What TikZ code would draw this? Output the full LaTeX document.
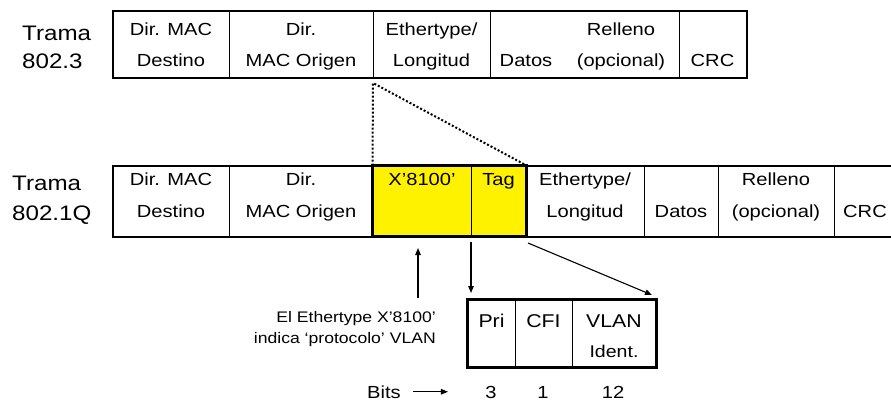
\documentclass[tikz,border=0pt]{standalone}
\usepackage{fontspec}
\setmainfont{Liberation Sans}[FakeStretch=1.15]
\usetikzlibrary{arrows.meta}

\begin{document}
\begin{tikzpicture}[x=1pt, y=-1pt,
  cell/.style={draw, line width=1pt, inner sep=0pt, minimum height=#1},
  frameline/.style={draw, line width=2pt},
  hilite/.style={fill=yellow},
  lbl/.style={inner sep=0pt, anchor=base, font=\fontsize{17.5}{20}\selectfont},
  tramalbl/.style={inner sep=0pt, anchor=base west, font=\fontsize{21}{24}\selectfont},
  taglbl/.style={inner sep=0pt, anchor=base, font=\fontsize{18.5}{22}\selectfont},
  note/.style={inner sep=0pt, anchor=base east, font=\fontsize{15.3}{18}\selectfont},
  arr/.style={line width=1.1pt, -{Triangle[length=7pt,width=5.5pt]}},
  dots/.style={line width=2pt, dotted}
]
\useasboundingbox (0,0) rectangle (891,400);
\clip (0,0) rectangle (891,400);

% ---------- 802.3 frame ----------
\node[tramalbl] (t1a) at (22,40) {Trama};
\node[tramalbl] (t1b) at (22,68) {802.3};

\node[cell=66pt, minimum width=116pt] (d1)   at (171,44)   {};
\node[cell=66pt, minimum width=144pt] (o1)   at (301,44)   {};
\node[cell=66pt, minimum width=117pt] (e1)   at (431.5,44) {};
\node[cell=66pt, minimum width=189pt] (p1)   at (584.5,44) {};
\node[cell=66pt, minimum width=67pt]  (crc1) at (712.5,44) {};
\draw[frameline] (d1.north west) rectangle (crc1.south east);

\node[lbl] at (171,35)   {Dir. MAC};
\node[lbl] at (171,66)   {Destino};
\node[lbl] at (301,35)   {Dir.};
\node[lbl] at (301,66)   {MAC Origen};
\node[lbl] at (431.5,35) {Ethertype/};
\node[lbl] at (431.5,66) {Longitud};
\node[lbl] at (526,66)   {Datos};
\node[lbl] at (621,35)   {Relleno};
\node[lbl] at (621,66)   {(opcional)};
\node[lbl] at (712.5,66) {CRC};

% ---------- 802.1Q frame ----------
\node[tramalbl] (t2a) at (12,190) {Trama};
\node[tramalbl] (t2b) at (12,220) {802.1Q};

\node[cell=70pt, minimum width=116pt] (d2)   at (171,201)   {};
\node[cell=70pt, minimum width=144pt] (o2)   at (301,201)   {};
\node[cell=70pt, minimum width=98pt, hilite] (x2) at (422,201) {};
\node[cell=70pt, minimum width=55pt, hilite] (g2) at (498.5,201) {};
\node[cell=70pt, minimum width=118pt] (e2)   at (585,201)   {};
\node[cell=70pt, minimum width=74pt]  (da2)  at (681,201)   {};
\node[cell=70pt, minimum width=116pt] (r2)   at (776,201)   {};
\node[cell=70pt, minimum width=62pt]  (crc2) at (865,201)   {};
\draw[frameline] (d2.north west) rectangle (crc2.south east);
\draw[line width=2.5pt] (x2.north west) rectangle (g2.south east);

\node[lbl] at (171,185)   {Dir. MAC};
\node[lbl] at (171,217)   {Destino};
\node[lbl] at (301,185)   {Dir.};
\node[lbl] at (301,217)   {MAC Origen};
\node[lbl] at (422,185)   {X'8100'};
\node[lbl] at (498.5,185) {Tag};
\node[lbl] at (585,185)   {Ethertype/};
\node[lbl] at (585,217)   {Longitud};
\node[lbl] at (681,217)   {Datos};
\node[lbl] at (776,185)   {Relleno};
\node[lbl] at (776,217)   {(opcional)};
\node[lbl] at (865,217)   {CRC};

% ---------- zoom lines from the 802.3 Ethertype field ----------
\coordinate (apex) at (373,83);
\draw[dots] (x2.north west) -- (apex) -- (g2.north east);

% ---------- tag detail ----------
\node[cell=67pt, minimum width=47pt] (pri)  at (491.5,333.5) {};
\node[cell=67pt, minimum width=57pt] (cfi)  at (543.5,333.5) {};
\node[cell=67pt, minimum width=84pt] (vid)  at (614,333.5)   {};
\draw[line width=2.5pt] (pri.north west) rectangle (vid.south east);

\node[taglbl] at (491.5,327) {Pri};
\node[taglbl] at (543.5,327) {CFI};
\node[taglbl] at (614,327)   {VLAN};
\node[lbl, font=\fontsize{17}{20}\selectfont] at (614,357) {Ident.};

% ---------- note on the Ethertype value ----------
\node[note] (n1) at (436,322) {El Ethertype X'8100'};
\node[note] (n2) at (436,343) {indica ‘protocolo’ VLAN};

% ---------- arrows ----------
\coordinate (upfoot) at (418,298);
\coordinate (uptip)  at (418,248);
\draw[arr] (upfoot) -- (uptip);

\coordinate (dnfoot) at (471,242);
\coordinate (dntip)  at (471,293);
\draw[arr] (dnfoot) -- (dntip);

\coordinate (diagfoot) at (528,243);
\coordinate (diagtip)  at (652,295);
\draw[arr] (diagfoot) -- (diagtip);

% ---------- bit widths ----------
\node[lbl, anchor=base west] (bits) at (367,398) {Bits};
\draw[arr] ([xshift=12pt]bits.east) -- ([xshift=47pt]bits.east);
\node[lbl] (b3)  at (491,398) {3};
\node[lbl] (b1)  at (543,398) {1};
\node[lbl] (b12) at (613,398) {12};
\end{tikzpicture}
\end{document}
